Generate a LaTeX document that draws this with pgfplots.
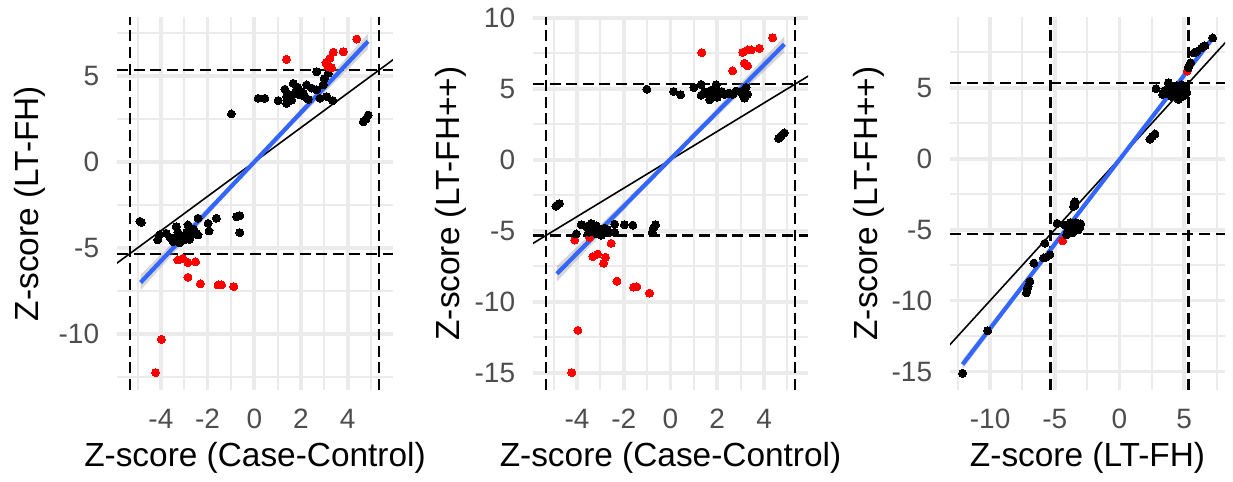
\documentclass[border=0pt]{standalone}
\usepackage{pgfplots}
\pgfplotsset{compat=1.18}
\usepackage{fontspec}
\setmainfont{Liberation Sans}

\definecolor{gridgray}{HTML}{EBEBEB}
\definecolor{tickgray}{HTML}{4D4D4D}
\definecolor{fitblue}{HTML}{3366FF}
\definecolor{bandgray}{HTML}{999999}

\pgfplotsset{
  zpanel/.style={
    scale only axis,
    anchor=south west,
    height=186.5pt,
    axis line style={draw=none},
    major tick length=0pt, minor tick length=0pt,
    grid=both,
    major grid style={gridgray, line width=1.9pt},
    minor grid style={gridgray, line width=1pt},
    tick label style={font=\fontsize{14}{14}\selectfont, text=tickgray, inner sep=0pt},
    xticklabel style={anchor=base, yshift=-19.5pt},
    yticklabel style={anchor=east, xshift=-8.75pt},
    label style={font=\fontsize{16.7}{16.7}\selectfont, inner sep=0pt},
    xlabel style={at={(axis description cs:0.5,0)}, anchor=base, yshift=-38.5pt},
    clip=true,
  },
  pts/.style={only marks, mark=*, mark size=2pt, color=#1,
    mark options={solid, draw=#1, fill=#1, line width=0pt}},
  thr/.style={black, line width=1.1pt, dash pattern=on 5.5pt off 2.8pt},
  diag/.style={black, line width=0.8pt},
  band/.style={draw=none, fill=bandgray, fill opacity=0.4},
  fit/.style={fitblue, line width=2.1pt},
}

% ---------- Case-Control vs LT-FH ----------
\pgfplotstableread{
x y
2.67 5.25
3.17 5.16
3.00 4.85
2.95 4.48
1.67 4.57
2.24 4.48
1.31 4.23
1.81 4.19
2.00 4.10
2.67 4.19
1.52 3.90
1.95 3.90
2.17 3.80
2.31 3.64
1.02 3.57
1.38 3.41
1.38 3.80
0.16 3.70
0.45 3.70
1.60 3.60
2.81 3.70
3.10 3.80
3.36 3.57
1.85 4.35
2.10 4.00
1.70 3.95
2.45 4.30
-0.98 2.79
4.67 2.34
4.78 2.50
4.88 2.73
-4.84 -3.51
-4.90 -3.45
-4.06 -4.24
-4.13 -4.53
-3.77 -4.15
-3.34 -3.76
-3.27 -4.10
-2.84 -3.66
-2.41 -3.27
-3.34 -4.53
-3.12 -4.30
-2.90 -4.10
-2.70 -4.24
-2.48 -4.15
-3.00 -4.53
-3.48 -4.63
-2.41 -4.24
-1.98 -3.57
-1.94 -4.01
-1.62 -3.27
-0.76 -3.18
-0.62 -3.12
-0.62 -4.11
-2.77 -4.50
-3.20 -4.70
-3.60 -4.40
-2.60 -3.90
}\ltfhBlack
\pgfplotstableread{
x y
4.39 7.15
1.38 5.97
3.38 6.38
3.81 6.41
3.24 6.03
3.07 5.77
3.31 5.48
3.15 5.55
-3.27 -5.70
-3.06 -5.60
-2.84 -5.85
-2.51 -5.81
-2.84 -6.71
-2.31 -7.09
-1.55 -7.15
-1.40 -7.15
-0.88 -7.25
-3.98 -10.31
-4.23 -12.25
}\ltfhRed

% ---------- Case-Control vs LT-FH++ ----------
\pgfplotstableread{
x y
-1.01 4.97
0.13 4.81
0.43 4.58
1.00 5.09
1.31 5.30
1.31 4.55
1.67 4.23
1.45 4.79
1.74 4.90
1.95 5.28
1.95 4.88
2.10 4.65
2.31 4.60
1.88 4.50
2.66 4.60
2.80 4.84
3.02 4.80
3.16 4.34
3.30 4.62
3.23 5.09
1.60 4.60
2.20 4.80
2.50 4.70
3.10 4.55
2.00 4.40
4.63 1.50
4.72 1.68
4.87 1.89
-4.82 -3.17
-4.75 -3.08
-4.90 -3.27
-3.82 -4.57
-4.03 -5.22
-3.39 -4.48
-3.18 -4.64
-3.32 -4.95
-3.03 -5.00
-2.82 -4.80
-2.61 -5.10
-2.39 -4.52
-2.39 -5.10
-2.96 -5.31
-1.97 -4.57
-1.61 -4.60
-0.64 -4.57
-0.73 -4.80
-0.78 -5.11
-3.18 -5.20
-3.60 -4.70
-2.70 -4.90
-3.50 -5.10
}\ppBlack
\pgfplotstableread{
x y
4.37 8.59
1.34 7.54
3.09 7.56
3.30 7.73
3.45 7.73
3.80 7.84
3.16 6.79
3.30 6.61
2.66 6.26
-4.10 -5.65
-3.46 -5.46
-2.54 -5.88
-3.32 -6.81
-3.11 -6.63
-2.78 -6.86
-2.86 -7.28
-2.29 -8.54
-1.58 -8.96
-1.44 -8.94
-0.90 -9.38
-3.96 -12.00
-4.22 -14.98
}\ppRed

% ---------- LT-FH vs LT-FH++ ----------
\pgfplotstableread{
x y
7.20 8.50
6.47 7.91
6.35 7.80
6.60 7.95
5.83 7.50
5.76 7.45
5.97 7.54
5.50 6.75
5.30 6.40
2.82 4.93
3.33 4.53
3.77 5.35
3.90 4.98
4.15 4.75
4.41 5.12
4.67 4.90
4.54 4.18
5.06 5.00
5.19 4.65
3.60 4.60
4.00 4.40
4.30 4.50
4.80 5.20
5.00 4.50
3.50 4.80
4.20 5.00
4.50 4.70
5.10 4.80
4.90 4.40
3.70 4.90
4.60 4.35
2.35 1.38
2.55 1.56
2.74 1.74
-3.45 -3.04
-3.45 -3.27
-3.56 -3.37
-4.82 -4.56
-4.23 -4.68
-3.97 -4.91
-3.32 -4.67
-3.19 -5.02
-3.55 -4.80
-3.67 -5.13
-3.06 -4.80
-4.09 -5.37
-3.80 -4.50
-3.40 -4.50
-3.00 -4.60
-3.90 -4.70
-3.30 -4.90
-3.50 -5.00
-3.20 -4.60
-3.70 -4.60
-4.00 -5.10
-3.60 -5.20
-5.77 -5.96
-5.38 -6.77
-5.69 -6.96
-5.87 -7.00
-6.62 -7.36
-6.93 -8.64
-7.06 -8.99
-7.15 -9.20
-7.19 -9.45
-10.20 -12.13
-12.13 -15.12
}\fhBlack
\pgfplotstableread{
x y
5.24 6.17
-4.40 -5.79
}\fhRed

\begin{document}
\begin{tikzpicture}
\useasboundingbox (0,0) rectangle (616.5pt,241pt);

% Panel 1
\begin{axis}[zpanel, at={(58.5pt,46pt)}, width=138pt,
  xmin=-5.88, xmax=5.94, ymin=-13.26, ymax=8.43,
  xtick={-4,-2,0,2,4}, xticklabels={-4,-2,0,2,4},
  minor xtick={-5,-3,-1,1,3,5},
  ytick={-10,-5,0,5}, yticklabels={-10,-5,0,5},
  minor ytick={-12.5,-7.5,-2.5,2.5,7.5},
  xlabel={Z-score (Case-Control)}, ylabel={Z-score (LT-FH)},
  ylabel style={at={(axis description cs:-0.2862,0.5)}, anchor=base},
]
\addplot[pts=black] table {\ltfhBlack};
\addplot[pts=red] table {\ltfhRed};
\addplot[thr] coordinates {(-5.88,-5.33) (5.94,-5.33)};
\addplot[thr] coordinates {(-5.88,5.33) (5.94,5.33)};
\addplot[thr] coordinates {(-5.33,-13.26) (-5.33,8.43)};
\addplot[thr] coordinates {(5.33,-13.26) (5.33,8.43)};
\addplot[diag] coordinates {(-13.26,-13.26) (8.43,8.43)};
\addplot[band] coordinates {(-4.87,-7.46) (-3,-4.62) (-1.5,-2.34) (0,-0.15) (1.5,1.98) (3,4.02) (4.87,6.56)
  (4.87,7.46) (3,4.62) (1.5,2.34) (0,0.15) (-1.5,-1.98) (-3,-4.02) (-4.87,-6.56)} -- cycle;
\addplot[fit] coordinates {(-4.87,-7.01) (4.87,7.01)};
\end{axis}

% Panel 2
\begin{axis}[zpanel, at={(266.5pt,46pt)}, width=137.5pt,
  xmin=-5.88, xmax=5.88, ymin=-16.2, ymax=10.05,
  xtick={-4,-2,0,2,4}, xticklabels={-4,-2,0,2,4},
  minor xtick={-5,-3,-1,1,3,5},
  ytick={-15,-10,-5,0,5,10}, yticklabels={-15,-10,-5,0,5,10},
  minor ytick={-12.5,-7.5,-2.5,2.5,7.5},
  xlabel={Z-score (Case-Control)}, ylabel={Z-score (LT-FH++)},
  ylabel style={at={(axis description cs:-0.2655,0.5)}, anchor=base},
]
\addplot[pts=red] table {\ppRed};
\addplot[pts=black] table {\ppBlack};
\addplot[thr] coordinates {(-5.88,-5.33) (5.88,-5.33)};
\addplot[thr] coordinates {(-5.88,5.33) (5.88,5.33)};
\addplot[thr] coordinates {(-5.33,-16.2) (-5.33,10.05)};
\addplot[thr] coordinates {(5.33,-16.2) (5.33,10.05)};
\addplot[diag] coordinates {(-16.2,-16.2) (10.05,10.05)};
\addplot[band] coordinates {(-4.86,-8.57) (-3,-5.31) (-1.5,-2.68) (0,-0.15) (1.5,2.30) (3,4.65) (4.87,7.58)
  (4.87,8.68) (3,5.41) (1.5,2.78) (0,0.25) (-1.5,-2.20) (-3,-4.55) (-4.86,-7.47)} -- cycle;
\addplot[fit] coordinates {(-4.86,-8.02) (4.87,8.13)};
\end{axis}

% Panel 3
\begin{axis}[zpanel, at={(475pt,46pt)}, width=137.5pt,
  xmin=-13.1, xmax=8.15, ymin=-16.3, ymax=9.98,
  xtick={-10,-5,0,5}, xticklabels={-10,-5,0,5},
  minor xtick={-12.5,-7.5,-2.5,2.5,7.5},
  ytick={-15,-10,-5,0,5}, yticklabels={-15,-10,-5,0,5},
  minor ytick={-12.5,-7.5,-2.5,2.5,7.5},
  xlabel={Z-score (LT-FH)}, ylabel={Z-score (LT-FH++)},
  ylabel style={at={(axis description cs:-0.2636,0.5)}, anchor=base},
]
\addplot[pts=red] table {\fhRed};
\addplot[pts=black] table {\fhBlack};
\addplot[thr] coordinates {(-13.1,-5.33) (8.15,-5.33)};
\addplot[thr] coordinates {(-13.1,5.33) (8.15,5.33)};
\addplot[thr] coordinates {(-5.33,-16.3) (-5.33,9.98)};
\addplot[thr] coordinates {(5.33,-16.3) (5.33,9.98)};
\addplot[diag] coordinates {(-16.3,-16.3) (9.98,9.98)};
\addplot[band] coordinates {(-12.13,-14.85) (-8,-9.81) (-4,-4.95) (0,-0.17) (4,4.56) (7.2,8.22)
  (7.2,8.78) (4,4.82) (0,0.03) (-4,-4.71) (-8,-9.37) (-12.13,-14.15)} -- cycle;
\addplot[fit] coordinates {(-12.13,-14.50) (7.2,8.50)};
\end{axis}
\end{tikzpicture}
\end{document}
